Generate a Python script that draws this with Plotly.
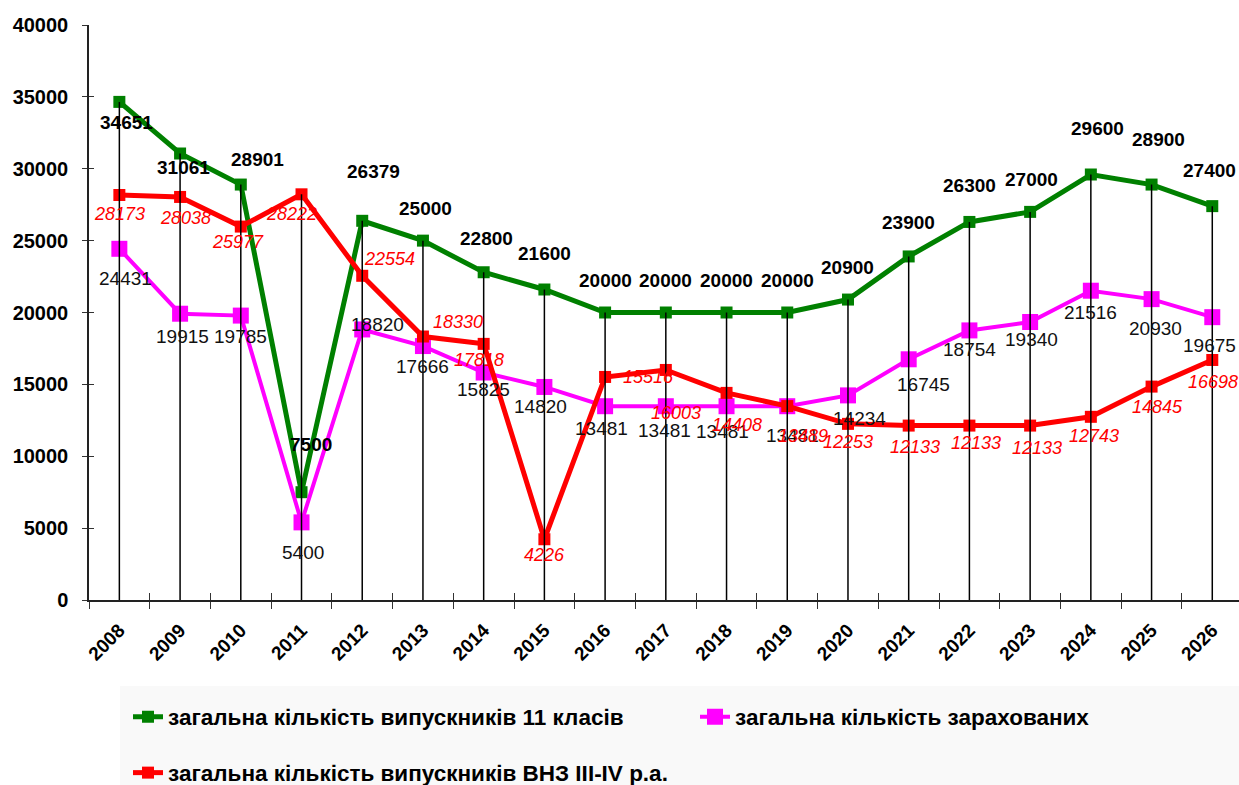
import plotly.graph_objects as go

# Роки прогнозу
years = ["2008", "2009", "2010", "2011", "2012", "2013", "2014", "2015", "2016", "2017",
         "2018", "2019", "2020", "2021", "2022", "2023", "2024", "2025", "2026"]

# Загальна кількість випускників 11 класів
grads_11 = [34651, 31061, 28901, 7500, 26379, 25000, 22800, 21600, 20000, 20000,
            20000, 20000, 20900, 23900, 26300, 27000, 29600, 28900, 27400]

# Загальна кількість зарахованих
enrolled = [24431, 19915, 19785, 5400, 18820, 17666, 15825, 14820, 13481, 13481,
            13481, 13481, 14234, 16745, 18754, 19340, 21516, 20930, 19675]

# Загальна кількість випускників ВНЗ III-IV р.а.
grads_univ = [28173, 28038, 25977, 28222, 22554, 18330, 17818, 4226, 15516, 16003,
              14408, 13489, 12253, 12133, 12133, 12133, 12743, 14845, 16698]

names = ["загальна кількість випускників 11 класів",
         "загальна кількість зарахованих",
         "загальна кількість випускників ВНЗ III-IV р.а."]

# Зсуви підписів даних відносно точок (пікселі: вправо, вниз)
grads_11_dx = [7, 3, 17, 9, 11, 3, 3, 0, 0, 0, 0, 0, 0, 0, 0, 1, 7, 7, -3]
grads_11_dy = [21, 14, -25, -48, -49, -32, -34, -36, -32, -32, -32, -32, -32, -34, -36, -32, -46, -45, -36]
enrolled_dx = [6, 2, 0, 1, 15, 0, 0, -4, -4, -1, -4, 5, 12, 15, 0, 1, 0, 4, -3]
enrolled_dy = [30, 23, 21, 30, -5, 20, 17, 20, 22, 24, 25, 29, 23, 25, 19, 18, 22, 29, 28]
grads_univ_dx = [0, 5, -3, -10, 27, 35, -5, 0, 43, 10, 10, 16, 0, 6, 7, 7, 3, 6, 1]
grads_univ_dy = [19, 21, 15, 20, -17, -15, 16, 16, 0, 43, 32, 30, 18, 21, 17, 22, 19, 20, 22]

FONT = "Arial, Liberation Sans, sans-serif"
GREEN = "#008000"
MAGENTA = "#FF00FF"
RED = "#FF0000"

fig = go.Figure()

fig.add_trace(go.Scatter(
    x=years, y=grads_11, name=names[0], mode="lines+markers",
    line=dict(color=GREEN, width=5),
    marker=dict(symbol="square", size=12, color=GREEN),
    legend="legend", hoverinfo="x+y",
))
fig.add_trace(go.Scatter(
    x=years, y=enrolled, name=names[1], mode="lines+markers",
    line=dict(color=MAGENTA, width=4),
    marker=dict(symbol="square", size=16, color=MAGENTA),
    legend="legend2", hoverinfo="x+y",
))
fig.add_trace(go.Scatter(
    x=years, y=grads_univ, name=names[2], mode="lines+markers",
    line=dict(color=RED, width=5),
    marker=dict(symbol="square", size=12, color=RED),
    legend="legend3", hoverinfo="x+y",
))

# Вертикальні лінії від найвищої точки до осі
tops = [max(a, b, c) for a, b, c in zip(grads_11, enrolled, grads_univ)]
fig.add_trace(go.Scatter(
    x=years, y=tops, mode="markers",
    marker=dict(size=1, color="rgba(0,0,0,0)"),
    error_y=dict(type="data", symmetric=False, array=[0] * len(tops),
                 arrayminus=tops, color="black", thickness=1.5, width=0),
    showlegend=False, hoverinfo="skip",
))

# Допоміжна прихована серія для внутрішніх засічок осей
fig.add_trace(go.Scatter(
    x=years, y=[0] * len(years), xaxis="x2", yaxis="y2", mode="markers",
    marker=dict(size=1, color="rgba(0,0,0,0)"), showlegend=False, hoverinfo="skip",
))

# Підписи значень (x — порядковий номер категорії)
label_sets = [
    (grads_11, grads_11_dx, grads_11_dy, dict(family=FONT, size=19, color="black", weight="bold")),
    (enrolled, enrolled_dx, enrolled_dy, dict(family=FONT, size=19, color="#111111")),
    (grads_univ, grads_univ_dx, grads_univ_dy, dict(family=FONT, size=18, color=RED, style="italic")),
]
for values, dxs, dys, font in label_sets:
    for i, (v, dx, dy) in enumerate(zip(values, dxs, dys)):
        fig.add_annotation(x=i, y=v, xref="x", yref="y", text=str(v), showarrow=False,
                           xshift=dx, yshift=-dy, font=font)

x_range = [-0.5, 18.44]
legend_font = dict(family=FONT, size=22.5, color="black", weight="bold")
fig.update_layout(
    width=1239, height=785,
    margin=dict(l=89, r=0, t=25, b=185),
    paper_bgcolor="white", plot_bgcolor="white",
    xaxis=dict(
        type="category", range=x_range, tickson="boundaries",
        ticks="outside", ticklen=7, tickwidth=1, tickcolor="#333",
        showline=True, linecolor="#222", linewidth=1.5, showgrid=False,
        tickangle=-45, tickfont=dict(family=FONT, size=19, color="black", weight="bold"),
        ticklabelstandoff=10,
    ),
    yaxis=dict(
        range=[0, 40000], dtick=5000, tickformat="d", ticks="outside", ticklen=5, tickwidth=1,
        tickcolor="#333", showline=True, linecolor="#222", linewidth=1.5,
        showgrid=False, zeroline=False,
        tickfont=dict(family=FONT, size=20, color="black", weight="bold"),
        ticklabelstandoff=10,
    ),
    xaxis2=dict(
        type="category", range=x_range, overlaying="x", anchor="y2", side="bottom",
        tickson="boundaries", ticks="inside", ticklen=7, tickwidth=1, tickcolor="#333",
        showticklabels=False, showline=False, showgrid=False,
    ),
    yaxis2=dict(
        range=[0, 40000], dtick=5000, overlaying="y", anchor="x2", side="left",
        ticks="inside", ticklen=5, tickwidth=1, tickcolor="#333",
        showticklabels=False, showline=False, showgrid=False, zeroline=False,
    ),
    legend=dict(
        orientation="h", xref="container", yref="container",
        x=128 / 1239, y=1 - 717 / 785, xanchor="left", yanchor="middle",
        bgcolor="rgba(0,0,0,0)", font=legend_font,
    ),
    legend2=dict(
        orientation="h", xref="container", yref="container",
        x=695 / 1239, y=1 - 717 / 785, xanchor="left", yanchor="middle",
        bgcolor="rgba(0,0,0,0)", font=legend_font,
    ),
    legend3=dict(
        orientation="h", xref="container", yref="container",
        x=128 / 1239, y=1 - 773 / 785, xanchor="left", yanchor="middle",
        bgcolor="rgba(0,0,0,0)", font=legend_font,
    ),
    shapes=[dict(
        type="rect", xref="paper", yref="paper", layer="below",
        x0=(120 - 89) / 1150, x1=1.0, y0=(600 - 786) / 575, y1=(600 - 686) / 575,
        fillcolor="#f9f9f9", line=dict(width=0),
    )],
)

fig.write_html("out.html")
